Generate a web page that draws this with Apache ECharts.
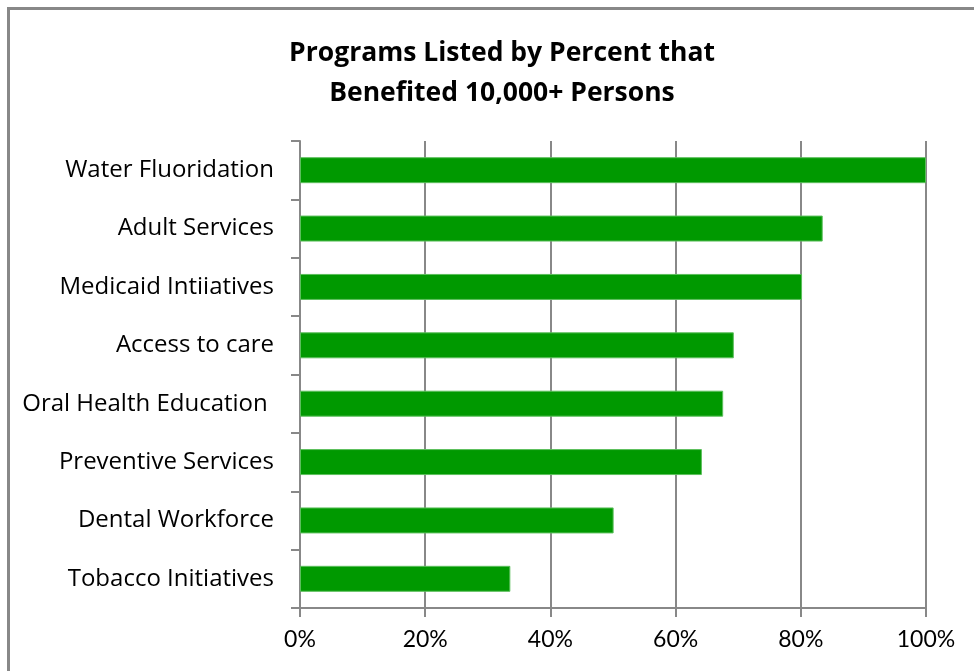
<!DOCTYPE html>
<html>
<head>
<meta charset="utf-8">
<script src="https://cdn.jsdelivr.net/npm/echarts@6/dist/echarts.min.js"></script>
<style>
  html, body { margin: 0; padding: 0; background: #ffffff; }
  #chart { width: 974px; height: 671px; }
</style>
</head>
<body>
<div id="chart"></div>
<script>
// Programs, top to bottom
const programs = [
  'Water Fluoridation',
  'Adult Services',
  'Medicaid Intiiatives',
  'Access to care',
  'Oral Health Education ',
  'Preventive Services',
  'Dental Workforce',
  'Tobacco Initiatives'
];
// Percent of programs that benefited 10,000+ persons
const percentBenefited = [100, 83.5, 80.2, 69.3, 67.6, 64.2, 50.1, 33.6];
const percentTicks = [0, 20, 40, 60, 80, 100];

const FONT = 'Lato, "Open Sans", sans-serif';
const LABEL_FONT = '"Open Sans", Lato, sans-serif';
const GRAY = '#888888';

const chart = echarts.init(document.getElementById('chart'), null, { renderer: 'canvas' });

chart.setOption({
  backgroundColor: '#ffffff',
  animation: false,
  title: {
    text: 'Programs Listed by Percent that\nBenefited 10,000+ Persons',
    left: 497,
    top: 28,
    textAlign: 'center',
    textStyle: {
      fontFamily: LABEL_FONT,
      fontSize: 26.5,
      fontWeight: 'bold',
      color: '#000000',
      lineHeight: 40
    }
  },
  graphic: [{
    type: 'rect',
    shape: { x: 8.5, y: 8.5, width: 1000, height: 700 },
    style: { fill: 'none', stroke: GRAY, lineWidth: 3 },
    silent: true
  }],
  grid: { left: 300, right: 48, top: 141, bottom: 63, containLabel: false },
  xAxis: {
    type: 'value',
    min: percentTicks[0],
    max: percentTicks[percentTicks.length - 1],
    interval: 20,
    axisLine: { show: true, lineStyle: { color: GRAY, width: 2 } },
    axisTick: { show: true, length: 9, lineStyle: { color: GRAY, width: 2 } },
    splitLine: { show: true, lineStyle: { color: GRAY, width: 2 } },
    axisLabel: {
      formatter: v => v + '%',
      fontFamily: FONT,
      fontSize: 23,
      color: '#000000',
      margin: 20
    }
  },
  yAxis: {
    type: 'category',
    data: programs,
    inverse: true,
    axisLine: { show: true, lineStyle: { color: GRAY, width: 2 } },
    axisTick: { show: true, length: 9, lineStyle: { color: GRAY, width: 2 } },
    splitLine: { show: false },
    axisLabel: {
      fontFamily: LABEL_FONT,
      fontSize: 24,
      color: '#000000',
      margin: 26
    }
  },
  series: [{
    type: 'bar',
    data: percentBenefited,
    barWidth: '44.5%',
    itemStyle: {
      color: '#009900',
      borderColor: '#5cbf5c',
      borderWidth: 1
    }
  }]
});
</script>
</body>
</html>
